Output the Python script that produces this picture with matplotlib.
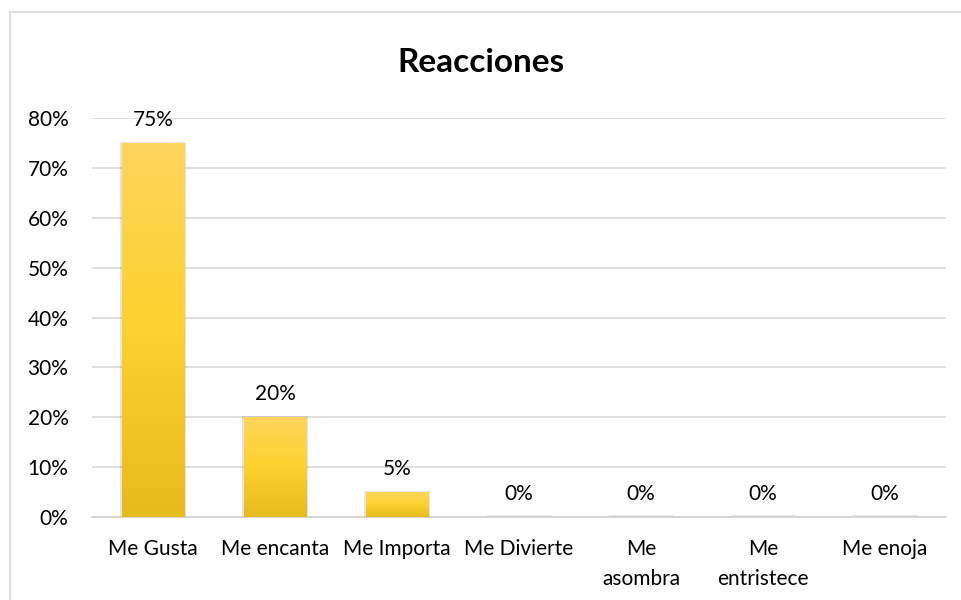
import matplotlib.pyplot as plt
import matplotlib.patches as mpatches
import numpy as np
from matplotlib.colors import LinearSegmentedColormap

plt.rcParams['font.family'] = ['Lato', 'DejaVu Sans']

categories = ['Me Gusta', 'Me encanta', 'Me Importa', 'Me Divierte',
              'Me\nasombra', 'Me\nentristece', 'Me enoja']
values = [75, 20, 5, 0, 0, 0, 0]
yticks = [0, 10, 20, 30, 40, 50, 60, 70, 80]

fig = plt.figure(figsize=(9.61, 6.0), dpi=100)
# outer chart border (light gray)
fig.patches.append(mpatches.Rectangle((10 / 961, -0.01), 1.0, 1 - 12 / 600 + 0.01,
                                      transform=fig.transFigure, fill=False,
                                      edgecolor='#d9d9d9', linewidth=1.2))

ax = fig.add_axes([92 / 961, 83 / 600, 854 / 961, 399 / 600])

grad = LinearSegmentedColormap.from_list('gold', ['#e6bb1c', '#fdd22e', '#fdd55a'])
x = np.arange(len(categories))
bars = ax.bar(x, values, width=0.51, color='none', edgecolor='none', zorder=3)
for b in bars:
    h = b.get_height()
    x0 = b.get_x()
    w = b.get_width()
    if h > 0:
        # soft shadow
        sh = mpatches.Rectangle((x0 - 0.012, 0), w + 0.024, h + 0.25,
                                facecolor='#000000', alpha=0.10, edgecolor='none', zorder=2)
        ax.add_patch(sh)
        im = ax.imshow(np.linspace(0, 1, 100).reshape(-1, 1), cmap=grad, aspect='auto',
                       extent=[x0, x0 + w, 0, h], origin='lower', zorder=3)
        im.set_clip_path(b)
    else:
        ax.plot([x0, x0 + w], [0.15, 0.15], color='#e6e3da', lw=2, zorder=2)

for xi, v in zip(x, values):
    ax.text(xi, v + 2.6, f'{v}%', ha='center', va='bottom', fontsize=15, color='#000000')

ax.set_xlim(-0.5, len(categories) - 0.5)
ax.set_ylim(0, 80)
ax.set_yticks(yticks)
ax.set_yticklabels([f'{t}%' for t in yticks], fontsize=15)
ax.set_xticks(x)
ax.set_xticklabels(categories, fontsize=15, va='top', linespacing=1.6)
ax.tick_params(axis='both', length=0, colors='#000000')
ax.tick_params(axis='x', pad=16)
ax.tick_params(axis='y', pad=17)
ax.grid(axis='y', color='#d9d9d9', linewidth=1.2, zorder=0)
ax.set_axisbelow(True)
for s in ['top', 'right', 'left']:
    ax.spines[s].set_visible(False)
ax.spines['bottom'].set_color('#d0d0d0')
ax.spines['bottom'].set_linewidth(1.2)

fig.text(0.5, 1 - 62 / 600, 'Reacciones', ha='center', va='center',
         fontsize=24, fontweight='bold', color='#000000')

fig.savefig('out.png', dpi=100)
